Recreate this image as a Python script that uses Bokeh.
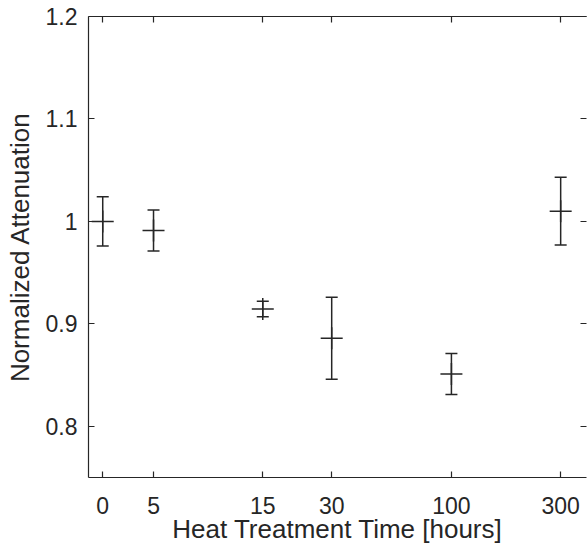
from bokeh.plotting import figure
from bokeh.models import (ColumnDataSource, Whisker, TeeHead, FixedTicker,
                          LinearAxis, LogAxis, NumeralTickFormatter)
from bokeh.embed import file_html
from bokeh.resources import INLINE

# ---- data -------------------------------------------------------------
time_labels = ["0", "5", "15", "30", "100", "300"]      # heat treatment time [hours]
x_pos = [3, 5, 15, 30, 100, 300]                        # plotting position on log axis (0 h drawn at 3)
attenuation = [1.000, 0.991, 0.9145, 0.886, 0.851, 1.010]
err = [0.024, 0.020, 0.0075, 0.040, 0.020, 0.033]
y_ticks = [0.8, 0.9, 1.0, 1.1, 1.2]

upper = [a + e for a, e in zip(attenuation, err)]
lower = [a - e for a, e in zip(attenuation, err)]
src = ColumnDataSource(dict(x=x_pos, y=attenuation, upper=upper, lower=lower))

INK = "#262626"
FONT = "Liberation Sans"

p = figure(width=587, height=556, x_axis_type="log",
           x_range=(2.6, 389), y_range=(0.75, 1.2),
           output_backend="svg", toolbar_location=None,
           min_border_left=88, min_border_right=1,
           min_border_top=16, min_border_bottom=79)
p.outline_line_color = None
p.xgrid.grid_line_color = None
p.ygrid.grid_line_color = None
p.background_fill_color = "white"
p.border_fill_color = "white"

# error bars
wh = Whisker(source=src, base="x", upper="upper", lower="lower", dimension="height",
             line_color=INK, line_width=1.5,
             upper_head=TeeHead(size=12, line_color=INK, line_width=1.5),
             lower_head=TeeHead(size=12, line_color=INK, line_width=1.5))
p.add_layout(wh)
p.scatter("x", "y", source=src, marker="cross", size=22, line_color=INK, line_width=1.5)

# bottom axis
xa = p.xaxis[0]
xa.ticker = FixedTicker(ticks=x_pos)
xa.major_label_overrides = {x: lab for x, lab in zip(x_pos, time_labels)}
xa.axis_label = "Heat Treatment Time [hours]"

# left axis
ya = p.yaxis[0]
ya.ticker = FixedTicker(ticks=y_ticks)
ya.formatter = NumeralTickFormatter(format="0.[0]")
ya.axis_label = "Normalized Attenuation"

for ax in (xa, ya):
    ax.axis_line_color = INK
    ax.axis_line_width = 1.2
    ax.major_tick_line_color = INK
    ax.major_tick_line_width = 1.2
    ax.major_tick_in = 6
    ax.major_tick_out = 0
    ax.minor_tick_line_color = None
    ax.major_label_text_font = FONT
    ax.major_label_text_font_size = "23px"
    ax.major_label_text_color = INK
    ax.axis_label_text_font = FONT
    ax.axis_label_text_font_size = "26px"
    ax.axis_label_text_font_style = "normal"
    ax.axis_label_text_color = INK
xa.major_label_standoff = 19
xa.axis_label_standoff = -3
ya.major_label_standoff = 11
ya.axis_label_standoff = 8

# mirrored ticks (box on)
ra = LinearAxis(ticker=FixedTicker(ticks=y_ticks))
ta = LogAxis(ticker=FixedTicker(ticks=x_pos))
ta.axis_line_color = INK
ta.axis_line_width = 1.2
ra.axis_line_color = None
for ax in (ra, ta):
    ax.major_tick_line_color = INK
    ax.major_tick_line_width = 1.2
    ax.major_tick_in = 6
    ax.major_tick_out = 0
    ax.minor_tick_line_color = None
    ax.major_label_text_font_size = "0px"
    ax.major_label_text_color = None
    ax.major_label_standoff = 0
p.add_layout(ra, "right")
p.add_layout(ta, "above")

open("out.html", "w").write(file_html(p, INLINE))
